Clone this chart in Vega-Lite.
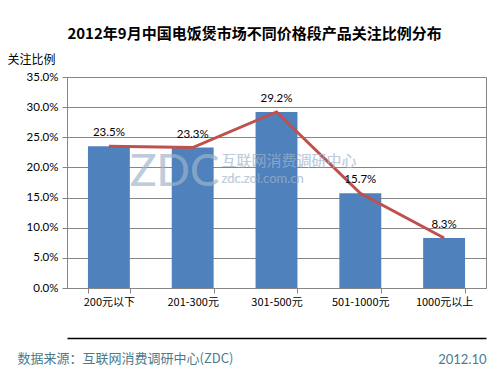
{
  "$schema": "https://vega.github.io/schema/vega-lite/v6.json",
  "autosize": "none",
  "width": 419,
  "height": 211,
  "padding": {"left": 67, "top": 77, "right": 14, "bottom": 87},
  "background": "white",
  "title": {
    "text": "2012年9月中国电饭煲市场不同价格段产品关注比例分布",
    "font": "Noto Sans CJK SC",
    "fontSize": 15,
    "fontWeight": "bold",
    "color": "#000000",
    "anchor": "middle",
    "frame": "group",
    "dx": -22,
    "offset": 11
  },
  "config": {
    "view": {"stroke": "#868686", "strokeWidth": 1},
    "axis": {"labelColor": "#000000", "titleColor": "#000000"}
  },
  "data": {
    "values": [
      {"range": "200元以下", "share": 0.235},
      {"range": "201-300元", "share": 0.233},
      {"range": "301-500元", "share": 0.292},
      {"range": "501-1000元", "share": 0.157},
      {"range": "1000元以上", "share": 0.083}
    ]
  },
  "encoding": {
    "x": {
      "field": "range",
      "type": "nominal",
      "sort": null,
      "scale": {"paddingInner": 0.5, "paddingOuter": 0.25}
    },
    "y": {
      "field": "share",
      "type": "quantitative",
      "scale": {"domain": [0, 0.35], "nice": false},
      "axis": {
        "format": ".1%",
        "values": [0, 0.05, 0.1, 0.15, 0.2, 0.25, 0.3, 0.35],
        "labelFont": "Lato",
        "labelFontSize": 11.5,
        "labelPadding": 4,
        "tickSize": 5,
        "tickColor": "#868686",
        "domainColor": "#868686",
        "gridColor": "#868686",
        "title": "关注比例",
        "titleFont": "Noto Sans CJK SC",
        "titleFontSize": 12,
        "titleFontWeight": "normal",
        "titleAngle": 0,
        "titleAlign": "left",
        "titleBaseline": "middle",
        "titleX": -60,
        "titleY": -18
      }
    }
  },
  "layer": [
    {
      "mark": {"type": "bar", "color": "#4F81BD"},
      "encoding": {
        "x": {
          "field": "range",
          "type": "nominal",
          "sort": null,
          "axis": {
            "labelAngle": 0,
            "labelFont": "Noto Sans CJK SC",
            "labelFontSize": 11,
            "labelPadding": 3,
            "tickSize": 5,
            "tickBand": "extent",
            "tickColor": "#868686",
            "domainColor": "#868686",
            "title": "数据来源：互联网消费调研中心(ZDC)",
            "titleFont": "Noto Sans CJK SC",
            "titleFontSize": 13,
            "titleFontWeight": "normal",
            "titleColor": "#4A7B8C",
            "titleAlign": "left",
            "titleBaseline": "middle",
            "titleX": -50,
            "titleY": 70
          }
        }
      }
    },
    {
      "mark": {"type": "line", "color": "#C0504D", "strokeWidth": 3},
      "encoding": {
        "x": {
          "field": "range",
          "type": "nominal",
          "sort": null,
          "axis": {
            "orient": "bottom",
            "offset": 50,
            "labels": false,
            "ticks": false,
            "grid": false,
            "domain": true,
            "domainColor": "#000000",
            "domainWidth": 1.5,
            "title": "2012.10",
            "titleFont": "Lato",
            "titleFontSize": 13,
            "titleFontWeight": "normal",
            "titleColor": "#4A7B8C",
            "titleAlign": "right",
            "titleBaseline": "middle",
            "titleX": 419,
            "titleY": 21
          }
        }
      }
    },
    {
      "mark": {"type": "text", "dy": -13, "fontSize": 11.5, "font": "Lato", "color": "#000000"},
      "encoding": {
        "x": {"field": "range", "type": "nominal", "sort": null, "axis": null},
        "text": {"field": "share", "type": "quantitative", "format": ".1%"}
      }
    },
    {
      "mark": {"type": "text", "fontSize": 44, "font": "Lato", "color": "#9fb6cc", "opacity": 0.2, "dx": -18},
      "encoding": {
        "x": {"datum": "201-300元", "axis": null},
        "y": {"datum": 0.19},
        "text": {"value": "ZDC"}
      }
    },
    {
      "mark": {"type": "text", "fontSize": 15, "font": "Noto Sans CJK SC", "color": "#9fb6cc", "opacity": 0.2, "align": "left", "dx": -55},
      "encoding": {
        "x": {"datum": "301-500元", "axis": null},
        "y": {"datum": 0.21},
        "text": {"value": "互联网消费调研中心"}
      }
    },
    {
      "mark": {"type": "text", "fontSize": 13, "font": "Lato", "color": "#9fb6cc", "opacity": 0.2, "align": "left", "dx": -55},
      "encoding": {
        "x": {"datum": "301-500元", "axis": null},
        "y": {"datum": 0.18},
        "text": {"value": "zdc.zol.com.cn"}
      }
    }
  ],
  "resolve": {"axis": {"x": "independent"}}
}
